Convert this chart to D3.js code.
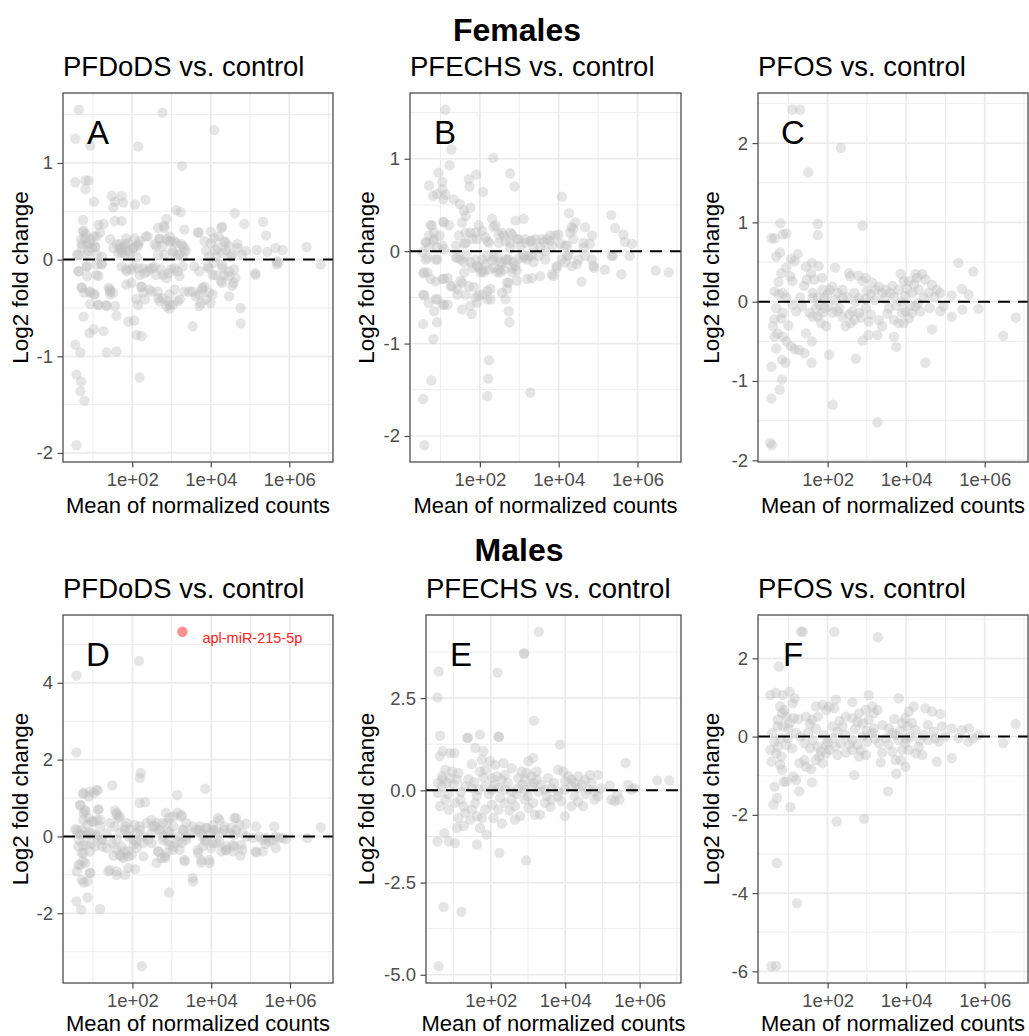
<!DOCTYPE html>
<html>
<head>
<meta charset="utf-8">
<script src="https://cdn.jsdelivr.net/npm/d3@7"></script>
<style>
  body { margin: 0; background: #fff; }
  text { font-family: "Liberation Sans", Arial, Helvetica, sans-serif; }
</style>
</head>
<body>
<div id="chart"></div>
<script>
// Each point: [log10(mean of normalized counts), log2 fold change]

// Females, PFDoDS vs. control
const femPFDoDS = [
  [0.64,1.55],[0.55,1.25],[0.93,1.18],[2.77,1.52],[4.09,1.34],[2.15,1.17],[3.27,0.97],
  [0.55,0.80],[0.81,0.82],[0.89,0.82],[0.81,0.73],[1.03,0.60],[1.48,0.66],[1.73,0.66],[1.56,0.60],[1.77,0.59],[1.52,0.54],[2.07,0.57],[2.34,0.62],
  [0.75,0.41],[1.14,0.36],[1.27,0.37],[1.56,0.40],[1.73,0.40],[3.12,0.51],[3.23,0.49],[2.87,0.42],[2.66,0.33],[2.81,0.35],[3.33,0.31],[2.39,0.24],
  [3.67,0.28],[4.00,0.29],[4.27,0.33],[4.61,0.48],[4.85,0.37],[5.33,0.39],[5.41,0.25],[6.44,0.13],[6.80,-0.05],
  [4.20,0.24],[4.37,0.18],[4.68,0.16],[4.68,0.12],[4.89,0.09],[5.17,0.10],[5.44,0.08],[5.65,0.12],[5.83,0.10],[5.68,-0.02],[5.68,-0.05],
  [5.14,-0.16],[4.47,-0.38],[4.76,-0.50],
  [0.76,0.30],[0.81,0.26],[0.70,0.21],[0.93,0.21],[1.02,0.24],[1.18,0.28],[0.85,0.16],[0.72,0.13],[0.97,0.12],[1.06,0.13],[0.60,0.05],[0.85,0.05],[1.10,0.05],[1.23,0.03],
  [1.44,0.21],[1.61,0.16],[1.69,0.12],[1.82,0.16],[1.90,0.17],[2.03,0.12],[2.15,0.16],[2.19,0.19],[1.65,0.07],[1.82,0.05],[1.94,0.07],[2.11,0.03],[1.73,0.10],[1.52,0.12],
  [2.57,0.16],[2.70,0.21],[2.87,0.21],[2.99,0.19],[3.12,0.17],[3.25,0.16],[3.33,0.12],[2.66,0.05],[2.82,0.05],[3.04,0.07],[3.16,0.05],[3.29,0.03],[2.95,0.24],
  [3.84,0.19],[4.00,0.17],[4.17,0.12],[4.38,0.10],[3.96,0.03],[4.13,0.03],[4.30,0.07],[4.51,0.03],[3.88,0.09],
  [0.64,-0.12],[0.85,-0.07],[1.10,-0.05],[0.85,-0.17],[1.14,-0.17],[1.23,-0.04],[0.72,-0.29],[0.78,-0.34],[0.93,-0.33],[1.02,-0.36],
  [0.93,-0.46],[1.14,-0.47],[1.35,-0.48],[1.56,-0.48],[1.40,-0.29],[1.44,-0.33],[1.44,-0.36],
  [1.73,-0.07],[1.86,-0.12],[1.98,-0.10],[2.15,-0.09],[2.19,-0.16],[2.32,-0.14],[2.45,-0.09],[2.57,-0.07],[1.98,-0.24],[2.24,-0.28],[2.28,-0.34],[2.49,-0.33],
  [2.66,-0.40],[2.70,-0.43],[2.95,-0.36],[3.08,-0.31],[3.21,-0.41],
  [2.78,-0.16],[2.87,-0.19],[2.99,-0.10],[3.16,-0.12],[3.29,-0.07],[3.33,-0.33],[3.54,-0.33],[3.62,-0.38],[3.79,-0.31],[3.88,-0.41],[3.71,-0.48],
  [3.58,-0.07],[3.71,-0.12],[3.92,-0.07],[4.05,-0.16],[4.09,-0.03],[4.30,-0.09],[4.34,-0.16],[4.59,-0.10],[4.63,-0.19],[4.26,-0.22],[4.47,-0.17],
  [3.96,-0.34],[4.05,-0.36],[3.84,-0.28],[3.75,-0.45],[4.55,-0.27],
  [2.11,-0.41],[2.15,-0.47],[2.32,-0.41],[2.91,-0.43],[2.95,-0.47],[3.16,-0.43],
  [0.76,-0.59],[0.91,-0.76],[1.02,-0.72],[1.27,-0.74],[0.55,-0.88],[0.68,-0.96],[0.58,-1.19],[0.70,-1.26],[0.68,-1.36],[0.78,-1.46],[0.58,-1.92],
  [1.60,-0.58],[1.90,-0.64],[2.05,-0.63],[2.11,-0.78],[2.24,-0.79],[1.35,-0.96],[1.60,-0.95],[2.19,-1.22],[2.95,-0.51],[3.54,-0.69],[4.76,-0.66],[2.87,-0.48],
  [0.75,0.29],[0.80,0.22],[0.71,0.16],[0.92,0.17],[1.05,0.14],[1.09,0.24],[0.88,0.09],[0.63,0.05],[0.84,-0.07],[0.63,-0.12],[1.09,-0.16],
  [1.22,-0.05],[0.71,-0.29],[0.92,-0.34],[1.05,-0.36],[1.43,-0.31],[1.51,-0.34],[1.13,-0.47],[1.34,-0.47],
  [1.68,0.16],[1.76,0.12],[1.72,0.07],[1.89,0.09],[2.02,0.12],[2.14,0.14],[1.85,0.22],[2.06,0.22],[2.35,0.24],[2.69,0.22],[2.82,0.33],
  [2.94,0.19],[3.07,0.19],[3.28,0.14],[2.61,0.14],[2.77,0.14],[3.03,0.09],[3.20,0.05],[3.36,0.09],
  [1.85,-0.10],[2.02,-0.07],[2.27,-0.09],[2.40,-0.12],[2.52,-0.09],[2.61,-0.16],[2.73,-0.10],[2.94,-0.14],[3.07,-0.09],[3.20,-0.17],
  [1.85,-0.26],[2.23,-0.28],[2.44,-0.31],[2.65,-0.33],[2.77,-0.40],[3.03,-0.47],[3.45,-0.33],[3.70,-0.36],[3.78,-0.29],[3.99,-0.45],
  [3.70,0.28],[4.08,0.22],[4.29,0.34],[4.33,0.19],[4.46,0.14],[4.12,0.10],[4.54,0.05],[4.79,0.05],[3.95,-0.09],[4.12,-0.16],
  [4.29,-0.05],[4.46,-0.12],[4.29,-0.24],[4.58,-0.24],[5.13,-0.14],[5.72,-0.03]
];

// Females, PFECHS vs. control
const femPFECHS = [
  [1.12,1.53],[1.28,1.10],[1.23,0.93],[2.34,1.01],[0.95,0.85],[1.05,0.75],[0.71,0.71],[0.81,0.60],[0.92,0.62],[1.05,0.67],[1.13,0.61],[1.07,0.56],
  [1.72,0.78],[1.74,0.70],[1.91,0.83],[2.08,0.64],[2.77,0.84],[2.88,0.70],[4.08,0.59],[1.34,0.56],[1.49,0.51],[1.59,0.44],[1.76,0.47],[1.64,0.38],
  [1.55,0.31],[1.07,0.32],[1.22,0.28],
  [0.78,0.28],[0.84,0.20],[0.63,0.10],[0.81,0.11],[0.71,0.04],[0.54,-0.01],[0.92,0.04],[1.05,0.06],[0.98,0.17],
  [0.56,-0.24],[0.63,-0.09],[0.88,-0.09],[0.67,-0.23],[0.56,-0.47],[0.70,-0.56],[0.84,-0.65],[0.92,-0.52],[1.05,-0.58],[1.18,-0.58],[0.91,-0.77],
  [0.56,-0.79],[0.82,-0.95],[0.77,-1.40],[0.56,-1.60],[0.59,-2.10],
  [2.23,-1.18],[2.21,-1.38],[2.19,-1.57],[3.28,-1.53],
  [1.05,-0.30],[1.18,-0.29],[0.88,-0.33],[1.30,-0.38],[1.43,-0.41],[1.51,-0.32],[1.60,-0.23],
  [1.43,-0.47],[1.55,-0.63],[1.76,-0.59],[1.64,-0.47],[1.79,-0.68],[1.89,-0.50],[1.97,-0.48],[1.85,-0.39],[1.93,-0.56],[2.06,-0.47],[2.19,-0.52],
  [2.27,-0.41],[2.10,-0.23],[2.23,-0.20],[2.02,-0.23],
  [2.56,-0.45],[2.69,-0.41],[2.65,-0.52],[2.73,-0.65],[2.75,-0.77],[2.73,-0.34],[2.44,-0.23],[2.52,-0.12],[2.65,-0.09],[2.90,-0.16],[2.94,-0.32],[2.82,-0.23],
  [3.20,-0.30],[3.32,-0.29],[3.53,-0.27],[3.20,-0.09],[3.32,-0.05],[3.49,-0.05],[3.66,-0.09],
  [3.83,-0.25],[3.95,-0.16],[4.08,-0.09],[4.16,-0.12],[4.25,-0.05],[4.33,-0.16],[4.50,-0.09],[4.67,-0.05],[4.58,-0.33],[4.84,-0.09],[4.90,-0.18],
  [5.17,-0.20],[5.38,-0.05],[5.59,-0.25],[5.80,-0.05],[6.46,-0.21],[6.79,-0.23],
  [4.26,0.41],[4.42,0.31],[4.33,0.26],[4.29,0.20],[4.37,0.13],[4.67,0.26],[4.85,0.17],[4.63,0.04],[4.79,0.08],[5.33,0.39],[5.43,0.25],[5.64,0.18],
  [5.68,0.10],[5.86,0.08],
  [3.99,0.18],[3.91,0.17],[3.78,0.11],[3.70,0.13],[3.62,0.10],[4.04,0.08],[4.16,0.06],[3.83,0.06],
  [1.97,0.28],[1.89,0.20],[2.06,0.22],[2.14,0.15],[2.31,0.35],[2.35,0.26],[2.48,0.18],[2.56,0.20],[2.65,0.11],[2.82,0.18],[2.90,0.33],[3.11,0.35],
  [2.98,0.13],[3.15,0.13],[3.28,0.11],[3.41,0.13],[3.57,0.13],[1.64,0.20],[1.47,0.17],[1.81,0.13],[2.23,0.09],[2.48,0.09],[2.77,0.09],[3.03,0.06],
  [3.36,0.04],[3.53,0.04],[1.60,0.08],[1.39,0.06],
  [1.39,-0.07],[1.51,-0.09],[1.64,-0.05],[1.76,-0.12],[1.89,-0.09],[2.06,-0.09],[2.19,-0.05],[2.31,-0.10],[2.44,-0.07],[2.56,-0.14],[2.73,-0.09],
  [2.86,-0.12],[2.98,-0.08],[3.11,-0.05],[1.81,-0.18],[1.97,-0.18],[2.14,-0.14],[2.35,-0.18],[2.48,-0.20],[2.61,-0.20],[2.82,-0.18],
  [0.75,0.28],[0.71,0.17],[0.84,0.13],[0.63,0.09],[1.09,0.31],[0.67,-0.07],[0.92,-0.09],[1.09,0.02],[0.59,-0.23],[0.75,-0.30],[1.09,-0.30],
  [1.26,-0.38],[0.59,-0.48],[0.88,-0.52],[1.09,-0.58],
  [1.64,0.09],[1.76,0.20],[1.93,0.13],[2.19,0.11],[2.40,0.28],[1.43,-0.07],[1.60,-0.12],[1.93,-0.16],[2.06,-0.21],[2.35,-0.07],[2.52,-0.23],
  [1.55,-0.34],[1.72,-0.38],[2.19,-0.43],[2.27,-0.52],[2.69,-0.34],
  [2.61,0.17],[2.77,0.20],[2.94,0.13],[3.15,0.09],[3.32,0.11],[2.77,0.04],[2.69,-0.09],[2.94,-0.21],[3.11,-0.07],[3.24,-0.05],[3.36,-0.12],
  [3.66,0.00],[3.78,0.17],[3.87,-0.27],[3.95,-0.18],[4.21,-0.05],[4.21,0.06],[4.37,0.24],[4.46,-0.14],[4.63,0.09],[4.88,-0.16],[5.34,-0.05]
];

// Females, PFOS vs. control
const femPFOS = [
  [1.10,2.42],[1.30,2.42],[2.34,1.94],[1.51,1.63],[0.80,0.99],[1.75,0.98],[1.75,0.84],[2.89,0.96],[0.57,0.80],[0.65,0.80],[0.86,0.85],[0.95,0.86],
  [0.79,0.62],[0.69,0.57],[1.24,0.60],[1.07,0.54],[1.16,0.51],[0.82,0.36],[0.95,0.43],[1.05,0.32],[1.10,0.26],
  [1.45,0.44],[1.60,0.49],[1.77,0.45],[1.58,0.36],[1.66,0.28],[1.47,0.28],[1.86,0.30],[2.19,0.43],
  [2.55,0.36],[2.57,0.32],[2.78,0.33],[2.97,0.30],[2.89,0.26],[3.14,0.24],[3.22,0.15],[3.39,0.11],[3.31,0.19],
  [3.86,0.35],[3.94,0.26],[4.07,0.26],[4.24,0.35],[4.41,0.35],[4.28,0.30],[4.49,0.28],[4.66,0.21],[4.78,0.15],[4.87,0.11],[5.16,0.08],[5.42,0.16],
  [5.33,0.49],[5.71,0.38],[5.59,0.09],
  [3.48,0.15],[3.60,0.11],[3.69,0.07],[3.81,0.15],[3.98,0.07],[4.15,0.11],[4.32,0.15],[4.57,0.11],
  [0.65,0.13],[0.76,0.09],[0.86,0.11],[0.95,0.05],[1.11,-0.04],[1.35,-0.06],[0.69,-0.08],[0.86,-0.14],[0.65,-0.22],[0.82,-0.21],[0.61,-0.31],
  [0.73,-0.40],[0.86,-0.44],[0.95,-0.50],[1.07,-0.56],[1.16,-0.60],[1.28,-0.61],[1.41,-0.65],[1.45,-0.40],[1.60,-0.50],[0.65,-0.44],[0.69,-0.59],
  [0.57,-0.82],[0.84,-0.73],[0.93,-0.77],[0.84,-0.98],[0.78,-1.11],[0.57,-1.22],[0.58,-1.81],[0.54,-1.78],[1.59,-0.77],
  [2.04,-0.67],[2.13,-1.30],[3.27,-1.52],[2.72,-0.72],[4.49,-0.77],[4.66,-0.35],[3.69,-0.44],[3.75,-0.57],[3.04,-0.42],[3.27,-0.42],[2.89,-0.49],
  [6.47,-0.43],[6.79,-0.20],[5.84,-0.09],[5.16,-0.19],[5.43,-0.10],[4.95,-0.06],[4.87,-0.12],
  [1.79,-0.04],[1.92,-0.08],[2.04,-0.06],[2.13,-0.14],[2.25,-0.12],[2.38,-0.19],[2.46,-0.31],[2.59,-0.27],[2.68,-0.23],[2.63,-0.12],[2.80,-0.14],
  [2.97,-0.08],[3.10,-0.16],[3.31,-0.23],[3.39,-0.31],[3.56,-0.08],[3.69,-0.23],[3.81,-0.27],[3.90,-0.14],[3.98,-0.12],[4.07,-0.21],[4.15,-0.14],
  [4.24,-0.06],[4.36,-0.12],[3.94,-0.27],[1.83,-0.27],[1.96,-0.31],[1.75,-0.19],[1.87,-0.14],[1.54,-0.14],[1.62,-0.19],
  [1.87,0.15],[1.99,0.09],[2.12,0.19],[2.25,0.11],[2.38,0.05],[1.62,0.11],[1.75,0.05],[2.68,0.11],[2.80,0.05],[2.97,0.03],[3.10,0.09],[2.38,0.15],
  [1.62,0.05],[1.70,-0.08],[1.92,0.04],[2.05,0.15],[2.20,0.02],[2.30,-0.08],[2.50,0.06],[2.55,-0.16],[2.72,0.00],[2.85,-0.20],[3.00,0.14],
  [3.05,-0.25],[3.20,0.02],[3.45,0.04],[3.52,-0.15],[3.65,0.20],[3.75,-0.05],[3.88,0.00],[4.02,0.16],[4.10,-0.05],[4.20,0.22],[4.30,-0.02],
  [4.45,0.05],[4.60,-0.08],[4.72,0.06],[1.40,0.20],[1.30,0.05],[1.20,-0.12],[1.00,-0.30],[0.75,0.25]
];

// Males, PFDoDS vs. control
const malePFDoDS = [
  [0.58,4.19],[2.17,4.57],[0.58,2.19],[2.21,1.65],[2.19,1.52],[1.49,1.33],[1.12,1.20],[1.02,1.13],[0.89,1.04],[0.76,1.11],[3.85,1.24],[3.14,1.08],
  [2.18,0.87],[2.32,0.89],[0.68,0.82],[0.80,0.69],[0.76,0.61],[1.14,0.71],[1.56,0.68],[1.60,0.56],[0.89,0.48],[0.97,0.39],[1.10,0.43],[0.85,0.30],
  [2.85,0.62],[3.04,0.52],[3.25,0.56],[3.14,0.62],[4.17,0.48],[4.59,0.48],[4.88,0.33],[5.14,0.26],[5.60,0.26],[6.78,0.24],[6.44,-0.04],
  [5.64,0.00],[5.81,-0.04],[5.90,-0.07],[5.64,-0.30],[5.39,-0.19],[5.31,-0.39],[5.14,-0.42],[4.74,-0.50],[4.55,-0.39],[4.38,-0.36],
  [3.96,-0.69],[3.75,-0.68],[3.33,-0.65],[3.54,-1.17],[2.93,-1.46],[2.24,-3.38],
  [0.58,-1.69],[0.70,-1.91],[0.86,-1.59],[1.18,-1.89],[0.72,-1.13],[0.76,-1.20],[0.86,-1.17],[0.59,-0.91],[0.68,-0.74],[0.80,-0.69],[0.93,-0.95],
  [0.76,-0.43],[0.63,-0.26],[0.83,-0.22],[1.39,-0.91],[1.60,-1.00],[1.81,-1.00],[1.90,-0.82],[2.07,-0.85],
  [1.52,-0.50],[1.69,-0.48],[1.77,-0.56],[1.90,-0.52],[1.98,-0.48],[2.11,-0.30],[2.28,-0.52],[2.61,-0.69],[2.74,-0.56],[2.87,-0.43],[2.66,-0.39],
  [2.83,-0.52],[3.04,-0.26],[3.20,-0.35],[3.25,-0.17],[3.67,-0.43],[3.79,-0.26],[4.00,-0.30],[4.13,-0.17],[4.26,-0.39],[4.38,-0.26],[4.55,-0.22],
  [4.76,-0.22],[3.84,-0.13],
  [0.55,0.19],[0.64,0.09],[0.72,0.17],[0.85,0.04],[0.97,0.09],[1.10,0.00],[1.23,-0.09],[1.35,0.09],[1.48,-0.17],[1.60,-0.09],[1.69,0.09],[1.81,0.17],
  [1.90,0.00],[2.03,-0.09],[2.11,0.09],[2.19,0.17],[2.28,0.00],[2.40,-0.09],[2.49,0.09],[2.57,0.26],[2.70,0.17],[2.78,0.00],[2.91,0.09],[3.04,0.26],
  [3.16,0.00],[3.29,0.17],[3.37,0.00],[3.50,0.09],[3.62,0.17],[3.75,0.09],[3.88,0.22],[4.05,0.17],[4.21,0.09],[4.34,0.26],[4.47,0.09],[4.63,0.17],
  [4.80,0.09],[4.89,0.00],[5.06,-0.04],[5.22,0.00],[5.39,-0.04],[5.56,-0.09],[2.61,0.35],[2.36,0.35],[1.86,0.35],[1.65,0.48],[1.18,0.26],[2.87,0.35],
  [3.37,0.35],[3.71,0.26],[4.05,0.30],
  [0.64,-0.09],[0.97,-0.17],[1.23,-0.26],[1.60,-0.35],[2.03,-0.22],[2.49,-0.17],[2.91,-0.13],[3.37,-0.09],[3.88,-0.09],[4.21,-0.13],[1.35,-0.30],[1.81,-0.39],
  [0.75,1.13],[0.92,1.17],[1.09,1.21],[0.67,0.82],[0.80,0.65],[1.13,0.69],[0.75,0.43],[1.01,0.39],[1.18,0.43],[0.59,0.17],[0.71,0.04],[0.88,0.09],
  [1.09,0.04],[1.22,-0.09],[0.75,-0.22],[0.92,-0.39],[1.05,-0.26],[0.71,-0.43],[0.63,-0.74],[0.75,-0.65],[0.92,-0.95],[1.43,-0.87],[1.60,-0.91],
  [1.60,0.61],[1.68,0.52],[1.43,0.35],[1.55,0.26],[1.81,0.26],[1.93,0.17],[2.06,0.30],[2.19,0.26],[1.72,-0.26],[1.89,-0.39],[1.72,-0.52],
  [2.10,-0.13],[2.27,-0.17],
  [2.48,0.43],[2.52,0.26],[2.69,0.17],[2.77,0.35],[2.94,0.48],[3.24,0.52],[2.94,0.13],[3.28,0.17],[2.77,-0.09],[2.94,-0.22],[3.15,-0.13],
  [2.65,-0.39],[2.82,-0.56],[3.03,-0.35],[3.32,-0.61],
  [3.53,0.26],[3.70,0.17],[3.87,0.22],[3.78,0.00],[3.99,0.09],[4.12,0.17],[4.21,0.43],[4.33,0.17],[4.50,0.22],[4.63,0.48],[4.58,0.04],[4.71,0.30],
  [3.66,-0.35],[3.74,-0.61],[3.95,-0.61],[4.04,-0.17],[4.37,-0.35],[4.58,-0.26],[4.79,-0.35],[5.13,-0.39],[5.30,-0.09],[5.47,-0.13],[5.72,-0.04],
  [3.53,-1.08]
];
// the one miRNA called out in the males PFDoDS panel
const malePFDoDSHit = { name: "apl-miR-215-5p", point: [3.27, 5.33] };

// Males, PFECHS vs. control
const malePFECHS = [
  [3.29,4.30],[2.89,3.70],[2.90,3.72],[0.60,3.22],[2.18,3.19],[0.57,2.52],[3.16,1.89],[0.64,1.48],[1.37,1.42],[1.38,1.43],[1.71,1.51],[2.21,1.46],
  [2.22,1.45],[3.86,1.24],[1.58,1.15],[1.80,1.06],[0.63,0.92],[0.71,1.06],[0.91,1.01],[1.02,1.01],[1.76,0.83],[1.49,0.71],[1.98,0.79],[3.01,0.79],
  [3.14,0.88],[5.62,0.74],
  [0.78,0.56],[0.96,0.51],[1.13,0.47],[0.69,0.38],[0.91,0.33],[1.09,0.29],[0.82,0.20],[0.58,0.20],[0.69,0.11],
  [1.71,0.51],[1.85,0.56],[2.12,0.69],[2.34,0.74],[2.56,0.60],[2.16,0.38],[2.29,0.29],[2.03,0.33],[2.38,0.42],
  [2.83,0.51],[2.96,0.47],[3.10,0.38],[3.23,0.51],[2.92,0.29],[2.74,0.33],[3.23,0.29],
  [3.54,0.33],[3.81,0.56],[3.95,0.51],[4.08,0.38],[4.17,0.29],[4.26,0.20],[4.35,0.38],[4.53,0.29],[4.66,0.42],[4.88,0.42],[4.71,0.20],[5.20,0.13],
  [5.69,0.15],[6.47,0.27],[6.80,0.27],
  [1.31,0.11],[1.49,0.06],[1.67,0.02],[1.85,0.11],[2.03,0.02],[2.21,0.06],[2.38,0.02],[2.56,-0.03],[2.74,0.06],[2.92,0.02],[3.10,0.11],[3.28,-0.03],
  [3.46,0.02],[3.63,0.06],[3.81,-0.03],[3.99,0.02],[4.17,0.11],[4.35,0.06],[4.62,0.02],[4.79,-0.03],[5.78,0.02],[5.87,0.06],
  [0.58,-0.07],[0.64,-0.43],[0.78,-0.25],[0.87,-0.52],[1.04,-0.34],[1.18,-0.25],[1.27,-0.43],[1.31,-0.61],[1.13,-0.75],[1.09,-1.02],[1.27,-0.97],
  [1.49,-0.52],[1.63,-0.70],[1.76,-0.75],[1.71,-1.02],[1.89,-1.20],[1.58,-0.34],[1.85,-0.52],[2.03,-0.39],[2.21,-0.52],[2.07,-0.75],[2.38,-0.34],
  [2.56,-0.25],[2.65,-0.43],[2.79,-0.70],[2.65,-0.79],[3.01,-0.48],[3.14,-0.34],[3.19,-0.66],[3.32,-0.66],[2.92,-0.25],[3.46,-0.34],[3.63,-0.25],
  [3.81,-0.16],[3.99,-0.70],[4.17,-0.43],[4.35,-0.30],[4.48,-0.43],[4.88,-0.16],[5.24,-0.25],[5.33,-0.30],[5.46,-0.25],[4.79,-0.25],
  [1.63,-1.47],[0.87,-1.38],[1.04,-1.43],[0.75,-1.16],[0.57,-1.38],[2.23,-1.70],[2.95,-1.90],[0.73,-3.16],[1.21,-3.29],[0.60,-4.77],
  [1.40,0.30],[1.55,0.22],[1.62,-0.15],[1.80,0.35],[1.95,-0.10],[2.10,0.15],[2.25,-0.20],[2.45,0.20],[2.50,-0.55],[2.70,-0.10],[2.85,0.15],
  [3.00,-0.15],[3.15,0.20],[3.35,0.15],[3.50,-0.15],[3.70,0.20],[3.90,-0.30],[4.00,0.25],[4.25,-0.15],[4.45,0.15],[4.55,-0.10],[4.95,0.05],
  [5.40,-0.10],[1.20,-0.05],[1.00,0.15],[0.85,-0.10],[0.70,0.30],[1.45,-0.80],[2.30,-0.90],[3.60,-0.45]
];

// Males, PFOS vs. control
const malePFOS = [
  [1.37,2.68],[1.32,2.68],[2.17,2.68],[3.28,2.54],[0.76,1.79],[0.54,1.06],[0.68,1.12],[0.86,1.06],[1.03,1.15],[1.16,0.98],
  [0.79,0.77],[0.90,0.68],[0.84,0.60],[0.95,0.51],[1.11,0.85],[1.13,0.47],[1.03,0.34],
  [0.59,0.09],[0.73,0.43],[0.86,0.26],[0.99,-0.04],[0.65,-0.13],[0.73,0.26],
  [0.54,-0.34],[0.57,-0.64],[0.69,-0.43],[0.82,-0.51],[0.79,-0.72],[0.73,-0.26],[0.95,-0.21],[0.65,-1.28],[0.62,-1.74],[0.71,-1.57],[0.84,-0.85],
  [0.88,-1.15],[0.95,-1.15],[1.05,-1.80],[1.20,-1.11],[1.28,-1.40],[1.13,-1.02],[0.71,-3.23],[1.22,-4.26],[0.57,-5.87],[0.69,-5.86],
  [2.23,-2.17],[2.93,-2.10],[3.54,-1.40],[2.68,-0.98],[1.60,-1.17],
  [1.28,-0.68],[1.41,-0.60],[1.58,-0.83],[1.45,-0.77],[1.79,-0.51],[1.87,-0.68],[1.70,-0.60],[1.96,-0.43],[2.04,-0.34],
  [3.35,-0.66],[3.75,-0.95],[3.73,-0.60],[3.86,-0.60],[3.98,-0.77],[4.78,-0.64],[5.16,-0.55],[6.47,-0.17],[6.79,0.32],
  [3.81,0.98],[3.05,1.06],[2.21,0.95],[2.63,0.88],[1.70,0.77],[1.87,0.81],[2.04,0.77],[1.96,0.68],[2.17,0.72],[1.45,0.51],[1.60,0.43],[1.55,0.32],
  [1.75,0.51],
  [2.97,0.68],[3.14,0.77],[3.18,0.60],[3.27,0.68],[2.80,0.60],[2.46,0.51],[2.63,0.47],[2.76,0.38],[2.89,0.34],[3.05,0.43],[3.18,0.21],
  [4.19,0.77],[4.07,0.64],[3.98,0.47],[3.90,0.34],[4.03,0.26],[4.49,0.72],[4.66,0.64],[4.87,0.58],[4.91,0.26],[5.16,0.21],[5.42,0.17],[5.60,0.21],
  [5.84,0.04],
  [1.20,0.09],[1.32,0.00],[1.41,-0.17],[1.62,-0.09],[1.75,-0.26],[1.83,-0.38],[1.96,-0.21],[2.13,-0.04],[2.25,0.13],[2.34,-0.17],[2.46,0.04],
  [2.63,-0.09],[2.76,-0.21],[2.89,0.00],[3.01,-0.13],[3.14,0.09],[3.31,-0.17],[3.48,-0.04],[3.65,0.09],[3.81,-0.09],[3.90,-0.34],[3.98,-0.17],
  [4.11,0.00],[4.24,0.17],[4.32,-0.26],[4.45,0.04],[4.57,-0.09],[4.70,0.13],[4.83,-0.13],[5.00,0.00],[5.33,-0.04],[5.59,-0.13],[5.71,-0.04],
  [2.13,0.26],[2.38,0.26],[3.56,0.21],[3.73,0.04],
  [2.25,-0.47],[2.46,-0.41],[2.63,-0.34],[2.80,-0.51],[2.97,-0.47],[3.39,-0.41],[3.65,-0.38],[4.07,-0.34],[4.24,-0.43],[4.41,-0.47],
  [1.50,0.10],[1.55,-0.30],[1.70,0.20],[1.90,0.05],[2.00,-0.15],[2.20,-0.25],[2.30,0.40],[2.55,-0.20],[2.70,0.20],[2.85,-0.35],[3.00,0.15],
  [3.20,-0.05],[3.40,0.30],[3.55,-0.20],[3.70,0.45],[3.85,0.15],[4.00,-0.05],[4.15,0.35],[4.35,-0.10],[4.55,0.30],[4.75,-0.05],[1.10,-0.30],
  [1.00,0.20],[0.80,-0.05],[1.25,0.45]
];

const xTickValues = [1e2, 1e4, 1e6];
const xTickLabels = ["1e+02", "1e+04", "1e+06"];
const groupTitles = ["Females", "Males"];
const panelTitles = ["PFDoDS vs. control", "PFECHS vs. control", "PFOS vs. control"];
const panelLetters = ["A", "B", "C", "D", "E", "F"];
const yTickSteps = [1, 1, 1, 2, 2.5, 2];
const yTickDecimals = [0, 0, 0, 0, 1, 0];

const colors = {
  point: "#bebebe",
  hit: "#ff2020",
  grid: "#ebebeb",
  border: "#4d4d4d",
  tickText: "#4d4d4d",
  text: "#000000",
};

const width = 1029, height = 1036;

// plot area of each panel, in pixels
const frames = [
  { left: 63,  right: 333,  top: 93,  bottom: 462, col: 0 },
  { left: 410, right: 681,  top: 93,  bottom: 462, col: 346 },
  { left: 758, right: 1028, top: 93,  bottom: 462, col: 691 },
  { left: 63,  right: 333,  top: 615, bottom: 983, col: 0 },
  { left: 426, right: 681,  top: 615, bottom: 983, col: 346 },
  { left: 758, right: 1028, top: 615, bottom: 983, col: 691 },
];

const datasets = [femPFDoDS, femPFECHS, femPFOS, malePFDoDS, malePFECHS, malePFOS];

const svg = d3.select("#chart")
  .append("svg")
  .attr("width", width)
  .attr("height", height)
  .attr("viewBox", [0, 0, width, height]);

svg.append("rect").attr("width", width).attr("height", height).attr("fill", "#fff");

// Group headings
svg.append("text").attr("x", 517).attr("y", 41).attr("text-anchor", "middle")
  .attr("font-size", 32).attr("font-weight", "bold").text(groupTitles[0]);
svg.append("text").attr("x", 519).attr("y", 561).attr("text-anchor", "middle")
  .attr("font-size", 32).attr("font-weight", "bold").text(groupTitles[1]);

// ggplot-style 5% expansion
function expanded(lo, hi) {
  const pad = (hi - lo) * 0.05;
  return [lo - pad, hi + pad];
}

function drawPanel(i) {
  const f = frames[i];
  const pts = datasets[i];
  const hit = i === 3 ? malePFDoDSHit : null;
  const all = hit ? pts.concat([hit.point]) : pts;

  const [lx0, lx1] = expanded(d3.min(all, (d) => d[0]), d3.max(all, (d) => d[0]));
  const [y0, y1] = expanded(d3.min(all, (d) => d[1]), d3.max(all, (d) => d[1]));

  const x = d3.scaleLog().domain([10 ** lx0, 10 ** lx1]).range([f.left, f.right]);
  const y = d3.scaleLinear().domain([y0, y1]).range([f.bottom, f.top]);

  const step = yTickSteps[i];
  const yMajor = d3.range(Math.ceil(y0 / step), Math.floor(y1 / step) + 1).map((k) => k * step);
  const yMinor = yMajor.map((v) => v - step / 2)
    .concat([yMajor[yMajor.length - 1] + step / 2])
    .filter((v) => v > y0 && v < y1);
  const xMajor = [0, 2, 4, 6, 8].map((e) => 10 ** e).filter((v) => v > 10 ** lx0 && v < 10 ** lx1);
  const xMinor = [1, 3, 5, 7].map((e) => 10 ** e).filter((v) => v > 10 ** lx0 && v < 10 ** lx1);

  const g = svg.append("g");

  // grid
  const grid = g.append("g").attr("stroke", colors.grid);
  grid.selectAll(".ymin").data(yMinor).join("line")
    .attr("x1", f.left).attr("x2", f.right)
    .attr("y1", (d) => y(d)).attr("y2", (d) => y(d)).attr("stroke-width", 0.9);
  grid.selectAll(".xmin").data(xMinor).join("line")
    .attr("y1", f.top).attr("y2", f.bottom)
    .attr("x1", (d) => x(d)).attr("x2", (d) => x(d)).attr("stroke-width", 0.9);
  grid.selectAll(".ymaj").data(yMajor).join("line")
    .attr("x1", f.left).attr("x2", f.right)
    .attr("y1", (d) => y(d)).attr("y2", (d) => y(d)).attr("stroke-width", 1.7);
  grid.selectAll(".xmaj").data(xMajor).join("line")
    .attr("y1", f.top).attr("y2", f.bottom)
    .attr("x1", (d) => x(d)).attr("x2", (d) => x(d)).attr("stroke-width", 1.7);

  // points
  g.append("g").selectAll("circle").data(pts).join("circle")
    .attr("cx", (d) => x(10 ** d[0]))
    .attr("cy", (d) => y(d[1]))
    .attr("r", 5.2)
    .attr("fill", colors.point)
    .attr("fill-opacity", 0.4);

  if (hit) {
    const hx = x(10 ** hit.point[0]), hy = y(hit.point[1]);
    g.append("circle").attr("cx", hx).attr("cy", hy).attr("r", 5.2)
      .attr("fill", colors.hit).attr("fill-opacity", 0.5);
    g.append("text").attr("x", hx + 20).attr("y", hy + 11)
      .attr("font-size", 14.5).attr("fill", colors.hit).text(hit.name);
  }

  // zero line
  g.append("line")
    .attr("x1", f.left).attr("x2", f.right)
    .attr("y1", y(0)).attr("y2", y(0))
    .attr("stroke", "#000").attr("stroke-width", 2)
    .attr("stroke-dasharray", "12,8");

  // panel border
  g.append("rect")
    .attr("x", f.left).attr("y", f.top)
    .attr("width", f.right - f.left).attr("height", f.bottom - f.top)
    .attr("fill", "none").attr("stroke", colors.border).attr("stroke-width", 1.3);

  // axes
  const xAxis = g.append("g")
    .attr("transform", `translate(0,${f.bottom})`)
    .call(d3.axisBottom(x).tickValues(xTickValues)
      .tickFormat((d, k) => xTickLabels[k]).tickSize(5.5).tickPadding(5));
  const yAxis = g.append("g")
    .attr("transform", `translate(${f.left},0)`)
    .call(d3.axisLeft(y).tickValues(yMajor)
      .tickFormat((d) => d.toFixed(yTickDecimals[i])).tickSize(5.5).tickPadding(4.5));
  [xAxis, yAxis].forEach((ax) => {
    ax.select(".domain").remove();
    ax.selectAll(".tick line").attr("stroke", colors.border).attr("stroke-width", 1.2);
    ax.selectAll(".tick text").attr("fill", colors.tickText).attr("font-size", 18.5)
      .attr("font-family", '"Liberation Sans", Arial, Helvetica, sans-serif');
  });

  // titles
  g.append("text").attr("x", f.left).attr("y", f.top - 17)
    .attr("font-size", 27.5).attr("fill", colors.text).text(panelTitles[i % 3]);
  g.append("text")
    .attr("x", (f.left + f.right) / 2).attr("y", Math.min(f.bottom + 51, height - 4.8))
    .attr("text-anchor", "middle").attr("font-size", 22).attr("fill", colors.text)
    .text("Mean of normalized counts");
  g.append("text")
    .attr("transform", `translate(${f.col + 28},${(f.top + f.bottom) / 2}) rotate(-90)`)
    .attr("text-anchor", "middle").attr("font-size", 22.5).attr("fill", colors.text)
    .text("Log2 fold change");

  // panel letter
  g.append("text").attr("x", f.left + 35).attr("y", f.top + 51)
    .attr("text-anchor", "middle").attr("font-size", 33).attr("fill", colors.text)
    .text(panelLetters[i]);
}

d3.range(6).forEach(drawPanel);
</script>
</body>
</html>
